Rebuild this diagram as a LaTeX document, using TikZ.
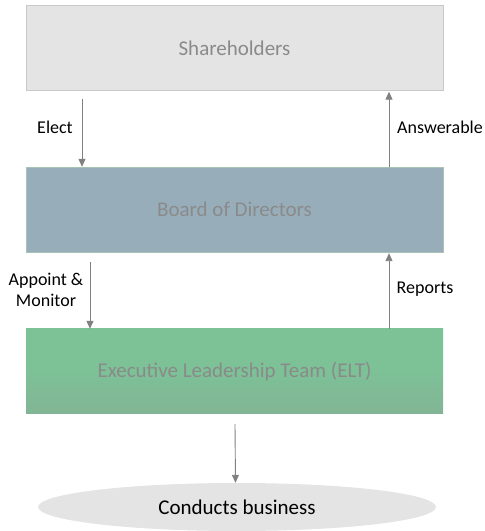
\documentclass[tikz,border=0pt]{standalone}
\usepackage{fontspec}
\setmainfont{Carlito}
\usetikzlibrary{shapes.geometric, arrows.meta}
\usetikzlibrary{calc}
\definecolor{shgray}{HTML}{E4E4E4}
\definecolor{shline}{HTML}{C8C8C8}
\definecolor{boardblue}{HTML}{97AEBA}
\definecolor{boardline}{HTML}{A9C2B4}
\definecolor{eltgreen}{HTML}{7DC197}
\definecolor{eltgray}{HTML}{88A892}
\definecolor{boxtext}{HTML}{8A8A8A}
\definecolor{arrowgray}{HTML}{808080}
\pgfdeclareverticalshading{eltshade}{100bp}{color(0bp)=(eltgray); color(50bp)=(eltgreen); color(100bp)=(eltgreen)}
\tikzstyle{arrow} = [line width=0.9pt,-{Triangle[length=8pt,width=7pt]},color=arrowgray]
\tikzstyle{level} = [rectangle, minimum width=417pt, minimum height=85pt, text centered, text=boxtext, font=\fontsize{21}{24}\selectfont, inner sep=0pt]
\tikzstyle{lbl} = [align=center, text=black, font=\fontsize{18}{19}\selectfont, inner sep=0pt]

\begin{document}
\begin{tikzpicture}[x=1pt, y=1pt]
    \useasboundingbox (0,0) rectangle (485,531);
    % levels
    \node (Shareholders) [level, fill=shgray, draw=shline] at (234.5,483) {Shareholders};
    \node (Board) [level, fill=boardblue, draw=boardline] at (234.5,321.5) {Board of Directors};
    \node (ELT) [level, shading=eltshade] at (234.5,159.5) {Executive Leadership Team (ELT)};
    \node (Business) [ellipse, fill=shgray, minimum width=398pt, minimum height=48pt, inner sep=0pt, font=\fontsize{21}{24}\selectfont] at (237,24) {Conducts business};

    % labels
    \node (elect) [lbl] at (55,404) {Elect};
    \node (answerable) [lbl] at (440,404) {Answerable};
    \node (appoint) [lbl, font=\fontsize{18}{21}\selectfont] at (46,241) {Appoint \&\\Monitor};
    \node (reports) [lbl] at (425,242) {Reports};

    % arrows
    \draw [arrow] ([xshift=-152.5pt,yshift=-8pt]Shareholders.south) -- ([xshift=-152.5pt]Board.north);
    \draw [arrow] ([xshift=154.5pt]Board.north) -- ([xshift=154.5pt,yshift=-1pt]Shareholders.south);
    \draw [arrow] ([xshift=-144.5pt,yshift=-10pt]Board.south) -- ([xshift=-144.5pt]ELT.north);
    \draw [arrow] ([xshift=154.5pt]ELT.north) -- ([xshift=154.5pt,yshift=-1pt]Board.south);
    \draw [arrow] ([xshift=0.5pt,yshift=-10pt]ELT.south) -- ([xshift=-1.5pt]Business.north);
\end{tikzpicture}
\end{document}
